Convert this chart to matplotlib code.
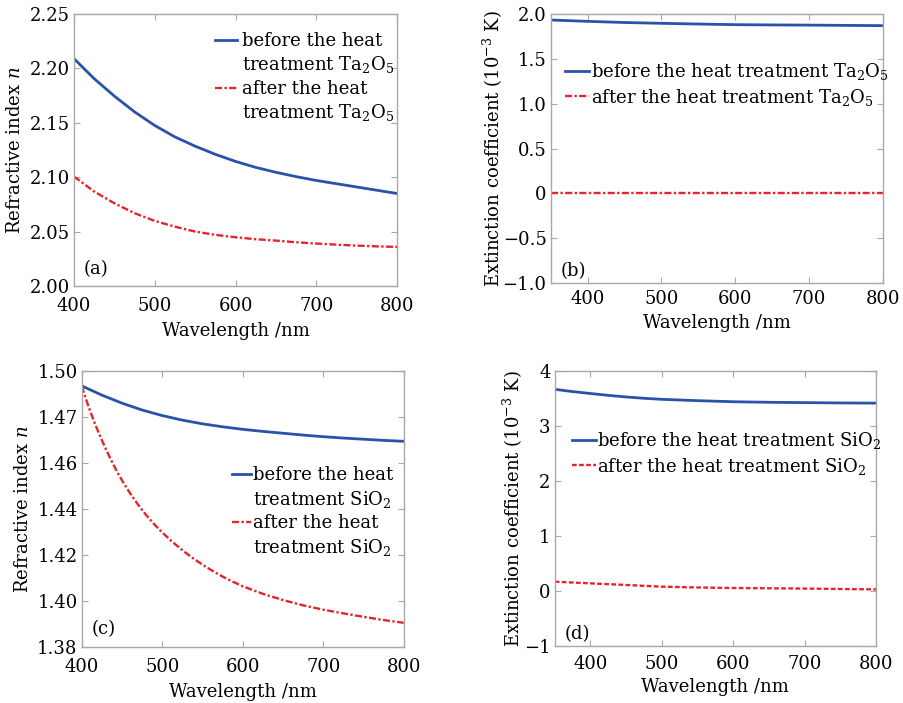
import matplotlib
matplotlib.use("Agg")
import matplotlib.pyplot as plt
from matplotlib.lines import Line2D

plt.rcParams['font.family'] = ['DejaVu Serif']
plt.rcParams['mathtext.fontset'] = 'dejavuserif'

# ---------------- data ----------------
# (a) Ta2O5 refractive index
wl_a = [400, 425, 450, 475, 500, 525, 550, 575, 600, 625, 650, 675, 700, 725, 750, 775, 800]
n_a_before = [2.2089, 2.1905, 2.1745, 2.1600, 2.1475, 2.1370, 2.1285, 2.1210, 2.1145, 2.1090,
              2.1045, 2.1005, 2.0970, 2.0940, 2.0910, 2.0880, 2.0850]
n_a_after = [2.1006, 2.0868, 2.0760, 2.0669, 2.0598, 2.0545, 2.0500, 2.0470, 2.0448, 2.0430,
             2.0417, 2.0402, 2.0390, 2.0380, 2.0371, 2.0364, 2.0359]

# (b) Ta2O5 extinction coefficient (1e-3)
wl_b = [350, 400, 450, 500, 550, 600, 650, 700, 750, 800]
k_b_before = [1.933, 1.918, 1.905, 1.896, 1.888, 1.881, 1.878, 1.876, 1.873, 1.870]
k_b_after = [0.0, 0.0, 0.0, 0.0, 0.0, 0.0, 0.0, 0.0, 0.0, 0.0]

# (c) SiO2 refractive index
wl_c_before = [400, 425, 450, 475, 500, 525, 550, 575, 600, 625, 650, 675, 700, 725, 750, 775, 800]
n_c_before = [1.4935, 1.4895, 1.4860, 1.4830, 1.4806, 1.4786, 1.4770, 1.4757, 1.4746, 1.4737,
              1.4729, 1.4721, 1.4714, 1.4708, 1.4703, 1.4698, 1.4694]
wl_c_after = [400, 405, 410, 415, 420, 425, 430, 435, 440, 445, 450, 460, 470, 480, 490, 500,
              512, 525, 537, 550, 562, 575, 587, 600, 625, 650, 675, 700, 725, 750, 775, 800]
n_c_after = [1.4935, 1.4880, 1.4830, 1.4783, 1.4740, 1.4699, 1.4660, 1.4623, 1.4588, 1.4555,
             1.4524, 1.4468, 1.4418, 1.4373, 1.4333, 1.4297, 1.4258, 1.4220, 1.4188, 1.4157,
             1.4131, 1.4105, 1.4084, 1.4063, 1.4030, 1.4003, 1.3980, 1.3961, 1.3945, 1.3930,
             1.3916, 1.3904]

# (d) SiO2 extinction coefficient (1e-3)
wl_d = [350, 375, 400, 425, 450, 475, 500, 550, 600, 650, 700, 750, 800]
k_d_before = [3.666, 3.625, 3.590, 3.556, 3.527, 3.503, 3.484, 3.460, 3.440, 3.430, 3.424, 3.418, 3.415]
k_d_after = [0.165, 0.150, 0.135, 0.120, 0.105, 0.090, 0.074, 0.060, 0.050, 0.045, 0.040, 0.032, 0.025]

x_ticks_ad = [400, 500, 600, 700, 800]
y_ticks_a = [2.00, 2.05, 2.10, 2.15, 2.20, 2.25]
y_labels_a = ["2.00", "2.05", "2.10", "2.15", "2.20", "2.25"]
y_ticks_b = [-1.0, -0.5, 0.0, 0.5, 1.0, 1.5, 2.0]
y_labels_b = ["\u22121.0", "\u22120.5", "0", "0.5", "1.0", "1.5", "2.0"]
y_ticks_c = [1.38, 1.40, 1.42, 1.44, 1.46, 1.48, 1.50]
y_labels_c = ["1.38", "1.40", "1.42", "1.44", "1.46", "1.47", "1.50"]
y_ticks_d = [-1, 0, 1, 2, 3, 4]
y_labels_d = ["\u22121", "0", "1", "2", "3", "4"]

BLUE = '#2a52a8'
RED = '#e8232a'
FS = 13

fig = plt.figure(figsize=(9.04, 7.03), dpi=100)

def style(ax, xpad):
    for s in ax.spines.values():
        s.set_color('#a8a8a8')
        s.set_linewidth(1.0)
    ax.tick_params(direction='in', length=4, width=0.8, color='#a8a8a8',
                   top=True, right=True, labelsize=FS, labelcolor='black')
    ax.tick_params(axis='y', pad=3)
    ax.tick_params(axis='x', pad=xpad)

def add_legend(ax, h1, h2, labels, bbox, handlelength, textpad, two_line):
    blank = Line2D([], [], color='none')
    if two_line:
        handles = [h1, blank, h2, blank]
    else:
        handles = [h1, h2]
    ax.legend(handles, labels, loc='upper left', bbox_to_anchor=bbox, frameon=False,
              fontsize=FS, handlelength=handlelength, handletextpad=textpad,
              labelspacing=0.25, borderaxespad=0.0, borderpad=0.0)

# (a)
ax = fig.add_axes([0.0819, 0.5932, 0.3573, 0.3869])
b1, = ax.plot(wl_a, n_a_before, color=BLUE, lw=2.0)
r1, = ax.plot(wl_a, n_a_after, color=RED, lw=1.7, dashes=(3, 1, 1, 1))
ax.set_xlim(400, 800); ax.set_ylim(2.00, 2.25)
ax.set_xticks(x_ticks_ad)
ax.set_yticks(y_ticks_a); ax.set_yticklabels(y_labels_a)
ax.set_xlabel("Wavelength /nm", fontsize=FS, labelpad=5)
ax.set_ylabel("Refractive index $n$", fontsize=FS, labelpad=4)
style(ax, 8)
add_legend(ax, b1, r1, ["before the heat", "treatment Ta$_2$O$_5$",
                        "after the heat", "treatment Ta$_2$O$_5$"],
           (0.4365, 0.934), 1.2, 0.3, True)
ax.text(0.03, 0.03, "(a)", transform=ax.transAxes, fontsize=FS, ha='left', va='bottom')

# (b)
ax = fig.add_axes([0.6092, 0.5974, 0.3673, 0.3827])
b1, = ax.plot(wl_b, k_b_before, color=BLUE, lw=2.0)
r1, = ax.plot(wl_b, k_b_after, color=RED, lw=1.7, dashes=(3, 1, 1, 1))
ax.set_xlim(350, 800); ax.set_ylim(-1.0, 2.0)
ax.set_xticks(x_ticks_ad)
ax.set_yticks(y_ticks_b); ax.set_yticklabels(y_labels_b)
ax.set_xlabel("Wavelength /nm", fontsize=FS, labelpad=4)
ax.set_ylabel("Extinction coefficient (10$^{-3}$ K)", fontsize=FS, labelpad=-2)
style(ax, 5)
add_legend(ax, b1, r1, ["before the heat treatment Ta$_2$O$_5$",
                        "after the heat treatment Ta$_2$O$_5$"],
           (0.042, 0.825), 1.35, 0.1, False)
ax.text(0.03, 0.01, "(b)", transform=ax.transAxes, fontsize=FS, ha='left', va='bottom')

# (c)
ax = fig.add_axes([0.0904, 0.0801, 0.3562, 0.3922])
b1, = ax.plot(wl_c_before, n_c_before, color=BLUE, lw=2.0)
r1, = ax.plot(wl_c_after, n_c_after, color=RED, lw=1.7, dashes=(3, 1, 1, 1))
ax.set_xlim(400, 800); ax.set_ylim(1.38, 1.50)
ax.set_xticks(x_ticks_ad)
ax.set_yticks(y_ticks_c); ax.set_yticklabels(y_labels_c)
ax.set_xlabel("Wavelength /nm", fontsize=FS, labelpad=5)
ax.set_ylabel("Refractive index $n$", fontsize=FS, labelpad=4)
style(ax, 8)
add_legend(ax, b1, r1, ["before the heat", "treatment SiO$_2$",
                        "after the heat", "treatment SiO$_2$"],
           (0.467, 0.655), 1.05, 0.1, True)
ax.text(0.03, 0.03, "(c)", transform=ax.transAxes, fontsize=FS, ha='left', va='bottom')

# (d)
ax = fig.add_axes([0.6136, 0.0815, 0.3554, 0.3908])
b1, = ax.plot(wl_d, k_d_before, color=BLUE, lw=2.0)
r1, = ax.plot(wl_d, k_d_after, color=RED, lw=1.7, dashes=(2, 1))
ax.set_xlim(350, 800); ax.set_ylim(-1, 4)
ax.set_xticks(x_ticks_ad)
ax.set_yticks(y_ticks_d); ax.set_yticklabels(y_labels_d)
ax.set_xlabel("Wavelength /nm", fontsize=FS, labelpad=4)
ax.set_ylabel("Extinction coefficient (10$^{-3}$ K)", fontsize=FS, labelpad=-1)
style(ax, 6.5)
add_legend(ax, b1, r1, ["before the heat treatment SiO$_2$",
                        "after the heat treatment SiO$_2$"],
           (0.054, 0.785), 1.3, 0.1, False)
ax.text(0.03, 0.01, "(d)", transform=ax.transAxes, fontsize=FS, ha='left', va='bottom')

fig.savefig("out.png", dpi=100)
